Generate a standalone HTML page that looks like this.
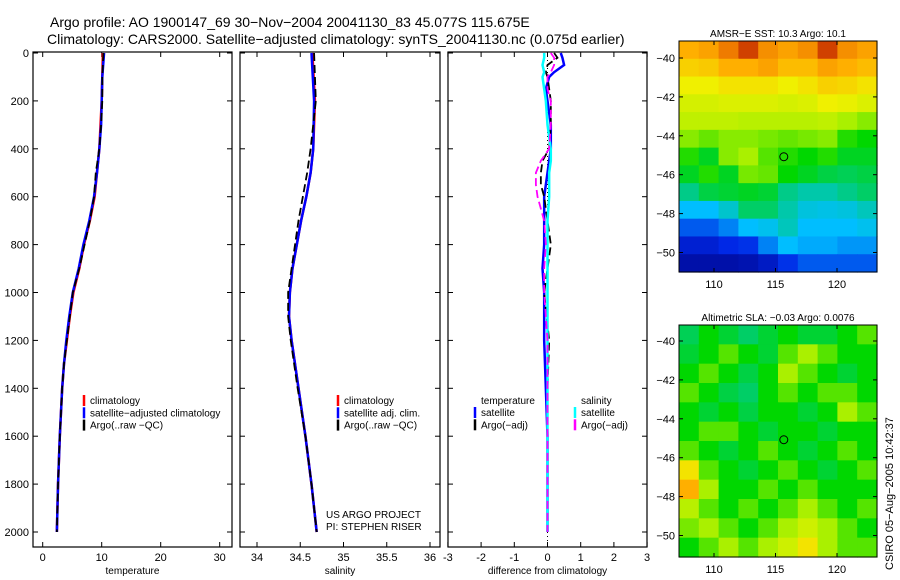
<!DOCTYPE html>
<html><head><meta charset="utf-8"><style>
html,body{margin:0;padding:0;background:#fff;}
svg{display:block;font-family:"Liberation Sans",sans-serif;}
</style></head><body>
<svg id="fig" width="900" height="580" viewBox="0 0 900 580" xmlns="http://www.w3.org/2000/svg">
<rect width="900" height="580" fill="#fff"/>
<text x="50" y="27" font-size="14">Argo profile: AO 1900147_69 30−Nov−2004 20041130_83 45.077S 115.675E</text>
<text x="47" y="44" font-size="14">Climatology: CARS2000. Satellite−adjusted climatology: synTS_20041130.nc (0.075d earlier)</text>
<g id="plots"></g>
<text transform="translate(893,570) rotate(-90)" font-size="11">CSIRO 05−Aug−2005 10:42:37</text>
</svg>
<script>
// ---- profile data ----
const depths = [0,100,200,300,400,500,600,700,800,900,1000,1100,1200,1300,1400,1600,1800,2000];
const tempClim = [10.2,10.1,10.0,9.8,9.6,9.2,8.8,8.0,7.0,6.2,5.2,4.6,4.1,3.6,3.3,2.9,2.6,2.4];
const tempSat  = [10.4,10.1,10.0,9.9,9.6,9.2,8.7,7.9,6.9,6.1,5.1,4.5,4.0,3.6,3.3,2.9,2.6,2.4];
const tempArgo = [10.3,10.1,10.1,9.9,9.6,9.0,8.7,8.0,7.1,6.2,5.1,4.6,4.1,3.6,3.3,2.9,2.6,2.4];
const salDepths = [0,200,400,500,600,700,800,900,1000,1100,1200,1400,1600,1800,2000];
const salClim = [34.64,34.67,34.65,34.62,34.57,34.51,34.46,34.41,34.38,34.37,34.40,34.48,34.56,34.63,34.69];
const salSat  = [34.63,34.66,34.65,34.62,34.57,34.51,34.46,34.41,34.38,34.37,34.40,34.48,34.56,34.63,34.69];
const salArgo = [34.66,34.68,34.62,34.58,34.53,34.48,34.44,34.40,34.36,34.36,34.39,34.47,34.56,34.63,34.69];
// ---- difference data ----
const diffDepths = [0,20,50,80,100,150,200,300,400,450,500,550,600,700,800,900,1000,1200,1400,1600,1800,2000];
const tempSatDiff  = [0.4,0.45,0.5,0.2,0.05,-0.05,0,0.1,0.1,0.05,0,-0.05,-0.1,-0.1,-0.1,-0.15,-0.1,-0.1,-0.05,0,0,0];
const tempArgoDiff = [0.2,0.3,0,-0.05,0,0.05,0.1,0.1,0.05,-0.15,-0.2,-0.2,-0.1,0,0.1,0,-0.1,0.05,0,0,0,0];
const salSatDiff   = [-0.1,-0.1,-0.15,-0.1,-0.15,-0.1,-0.05,0,0.1,0.1,0.05,0.05,0.05,0,0,0,0,0,0,0,0,0];
const salArgoDiff  = [0.1,0.2,0.2,0.1,0,0,0.1,0.1,0.05,-0.2,-0.35,-0.35,-0.3,-0.1,-0.05,-0.1,-0.1,0,0,0,0,0];
// ---- tick labels ----
const depthTicks = [0,200,400,600,800,1000,1200,1400,1600,1800,2000];
const tempTicks = [0,10,20,30];
const salTicks = [34,34.5,35,35.5,36];
const diffTicks = [-3,-2,-1,0,1,2,3];
const lonTicks = [110,115,120];
const latTicks = [-40,-42,-44,-46,-48,-50];
// ---- map data (colormap index 0..1) ----
const sstGrid = [
[0.8,0.82,0.88,0.95,0.85,0.82,0.85,0.95,0.85,0.82],
[0.75,0.76,0.8,0.8,0.82,0.78,0.78,0.82,0.8,0.78],
[0.7,0.7,0.72,0.72,0.72,0.7,0.72,0.75,0.74,0.72],
[0.66,0.66,0.67,0.67,0.67,0.66,0.67,0.7,0.69,0.67],
[0.63,0.63,0.63,0.62,0.62,0.62,0.62,0.63,0.6,0.58],
[0.58,0.56,0.58,0.58,0.57,0.56,0.57,0.58,0.52,0.5],
[0.52,0.48,0.58,0.6,0.55,0.52,0.5,0.52,0.48,0.48],
[0.48,0.52,0.48,0.57,0.56,0.5,0.48,0.46,0.45,0.46],
[0.42,0.46,0.47,0.48,0.47,0.42,0.4,0.4,0.42,0.44],
[0.3,0.3,0.36,0.44,0.44,0.4,0.34,0.33,0.34,0.38],
[0.2,0.2,0.24,0.3,0.32,0.38,0.3,0.3,0.3,0.32],
[0.12,0.12,0.15,0.16,0.24,0.3,0.28,0.28,0.26,0.26],
[0.06,0.06,0.06,0.07,0.1,0.16,0.2,0.2,0.2,0.2]];
const slaGrid = [
[0.45,0.5,0.47,0.44,0.47,0.5,0.47,0.47,0.5,0.55],
[0.47,0.5,0.55,0.5,0.47,0.55,0.6,0.55,0.5,0.5],
[0.5,0.55,0.5,0.46,0.5,0.6,0.55,0.5,0.47,0.5],
[0.55,0.5,0.46,0.44,0.5,0.55,0.5,0.55,0.55,0.5],
[0.5,0.47,0.5,0.46,0.5,0.5,0.47,0.5,0.6,0.55],
[0.5,0.55,0.55,0.5,0.47,0.5,0.5,0.47,0.5,0.5],
[0.55,0.5,0.47,0.5,0.55,0.5,0.47,0.5,0.55,0.5],
[0.72,0.55,0.5,0.47,0.5,0.55,0.5,0.47,0.5,0.55],
[0.8,0.6,0.5,0.5,0.55,0.5,0.55,0.5,0.5,0.5],
[0.62,0.55,0.5,0.55,0.5,0.55,0.6,0.55,0.5,0.55],
[0.57,0.6,0.55,0.5,0.55,0.6,0.65,0.6,0.55,0.5],
[0.5,0.55,0.6,0.55,0.6,0.65,0.72,0.6,0.55,0.55]];
const floatLon = 115.675, floatLat = -45.077;

const NS='http://www.w3.org/2000/svg';
const root=document.getElementById('plots');
function mk(tag,attrs,parent){const e=document.createElementNS(NS,tag);for(const k in attrs)e.setAttribute(k,attrs[k]);(parent||root).appendChild(e);return e;}
function txt(s,x,y,size,anchor,parent){const t=mk('text',{x:x,y:y,'font-size':size,'text-anchor':anchor||'start'},parent);t.textContent=s;return t;}

const pTop=52, pBot=547;
const yD=d=>53+d*0.2395;

function panel(name,x0,x1,xs,xticks,xlabel,fmt,leftLabels){
  const g=mk('g',{});
  
  
  const r=mk('rect',{x:x0,y:pTop,width:x1-x0,height:pBot-pTop,fill:'none',stroke:'#000','stroke-width':1.2},g);
  
  
  xticks.forEach(v=>{const x=xs(v);
    mk('line',{x1:x,x2:x,y1:pTop,y2:pTop+5,stroke:'#000'},g);
    mk('line',{x1:x,x2:x,y1:pBot,y2:pBot-5,stroke:'#000'},g);
    const t=txt(fmt(v),x,561,11,'middle',g);
    
    });
  depthTicks.forEach(d=>{const y=yD(d);
    mk('line',{x1:x0,x2:x0+5,y1:y,y2:y,stroke:'#000'},g);
    mk('line',{x1:x1,x2:x1-5,y1:y,y2:y,stroke:'#000'},g);
    if(leftLabels){const t=txt(String(d),x0-4,y+4,11,'end',g);
      
      }});
  const xl=txt(xlabel,(x0+x1)/2,574,10,'middle',g);
  
  
  return g;
}
function line(g,xs,vals,ds,color,w,dash,name){
  const p=mk('polyline',{points:vals.map((v,i)=>xs(v)+','+yD(ds[i])).join(' '),fill:'none',stroke:color,'stroke-width':w},g);
  if(dash)p.setAttribute('stroke-dasharray',dash);
  
  
}
function legend(g,x,y,items){
  items.forEach((it,i)=>{
    const yy=y+i*12.3;
    mk('line',{x1:x,x2:x,y1:yy-9,y2:yy+2,stroke:it[1],'stroke-width':2.5},g);
    const t=txt(it[0],x+6,yy,10,'start',g);
    
    
  });
}
// temperature
const xT=v=>42.7+v*5.9;
let g1=panel('temperature-panel',33,232,xT,tempTicks,'temperature',v=>String(v),true);
line(g1,xT,tempClim,depths,'#f00',2.5,null,'temp-climatology-line');
line(g1,xT,tempSat,depths,'#00f',2.5,null,'temp-satellite-line');
line(g1,xT,tempArgo,depths,'#000',1.8,'8,4','temp-argo-line');
legend(g1,84,404,[['climatology','#f00'],['satellite−adjusted climatology','#00f'],['Argo(..raw −QC)','#000']]);
// salinity
const xS=v=>257+(v-34)*86.5;
let g2=panel('salinity-panel',240,440,xS,salTicks,'salinity',v=>String(v),false);
line(g2,xS,salClim,salDepths,'#f00',2.5,null,'sal-climatology-line');
line(g2,xS,salSat,salDepths,'#00f',2.5,null,'sal-satellite-line');
line(g2,xS,salArgo,salDepths,'#000',1.8,'8,4','sal-argo-line');
legend(g2,338,404,[['climatology','#f00'],['satellite adj. clim.','#00f'],['Argo(..raw −QC)','#000']]);
let c1=txt('US ARGO PROJECT',326,518,10,'start',g2);
let c2=txt('PI: STEPHEN RISER',326,530,10,'start',g2);
// difference
const xF=v=>547.5+v*33.2;
let g3=panel('difference-panel',448,647,xF,diffTicks,'difference from climatology',v=>String(v),false);
mk('line',{x1:xF(0),x2:xF(0),y1:pTop,y2:pBot,stroke:'#000','stroke-dasharray':'1,3'},g3);
line(g3,xF,tempSatDiff,diffDepths,'#00f',2.5,null,'temp-satellite-diff-line');
line(g3,xF,tempArgoDiff,diffDepths,'#000',1.8,'8,4','temp-argo-diff-line');
line(g3,xF,salSatDiff,diffDepths,'#0ff',2.5,null,'sal-satellite-diff-line');
line(g3,xF,salArgoDiff,diffDepths,'#f0f',1.8,'8,4','sal-argo-diff-line');
let h1=txt('temperature',481,404,10,'start',g3);
legend(g3,475,416,[['satellite','#00f'],['Argo(−adj)','#000']]);
let h2=txt('salinity',581,404,10,'start',g3);
legend(g3,575,416,[['satellite','#0ff'],['Argo(−adj)','#f0f']]);

// maps
const cmapStops=[[0,[0,0,128]],[0.15,[0,40,230]],[0.3,[0,190,255]],[0.4,[0,200,170]],[0.5,[0,215,0]],[0.6,[170,240,0]],[0.7,[240,240,0]],[0.8,[255,175,0]],[0.9,[235,110,0]],[1,[180,20,0]]];
function cmap(v){v=Math.max(0,Math.min(1,v));
  for(let i=1;i<cmapStops.length;i++){const a=cmapStops[i-1],b=cmapStops[i];
    if(v<=b[0]){const t=(v-a[0])/(b[0]-a[0]);
      return 'rgb('+a[1].map((c,k)=>Math.round(c+(b[1][k]-c)*t)).join(',')+')';}}
  return 'rgb(180,20,0)';}
function map(name,title,grid,y0,y1,lat40y){
  const x0=679,x1=877;
  const g=mk('g',{});
  
  
  const xL=lon=>714+(lon-110)*12.3;
  const yL=lat=>lat40y+(-40-lat)*19.45;
  const rows=grid.length, cols=grid[0].length;
  const cw=(x1-x0)/cols, ch=(y1-y0)/rows;
  grid.forEach((row,i)=>row.forEach((v,j)=>{
    const c=mk('rect',{x:x0+j*cw,y:y0+i*ch,width:cw+0.6,height:ch+0.6,fill:cmap(v)},g);
    
    
  }));
  mk('rect',{x:x0,y:y0,width:x1-x0,height:y1-y0,fill:'none',stroke:'#000'},g);
  lonTicks.forEach(l=>{const x=xL(l);
    mk('line',{x1:x,x2:x,y1:y0,y2:y0+4,stroke:'#000'},g);
    mk('line',{x1:x,x2:x,y1:y1,y2:y1-4,stroke:'#000'},g);
    const t=txt(String(l),x,y1+16,11,'middle',g);
    });
  latTicks.forEach(l=>{const y=yL(l);
    mk('line',{x1:x0,x2:x0+4,y1:y,y2:y,stroke:'#000'},g);
    mk('line',{x1:x1,x2:x1-4,y1:y,y2:y,stroke:'#000'},g);
    const t=txt(String(l).replace('-','−'),x0-4,y+4,11,'end',g);
    });
  const m=mk('circle',{cx:xL(floatLon),cy:yL(floatLat),r:4,fill:'none',stroke:'#000'},g);
  
  
  const t=txt(title,(x0+x1)/2,y0-4,10,'middle',g);
  
}
map('sst-map','AMSR−E SST: 10.3 Argo: 10.1',sstGrid,41,272,58);
map('sla-map','Altimetric SLA: −0.03 Argo: 0.0076',slaGrid,325,557,341);
</script>
</body></html>
